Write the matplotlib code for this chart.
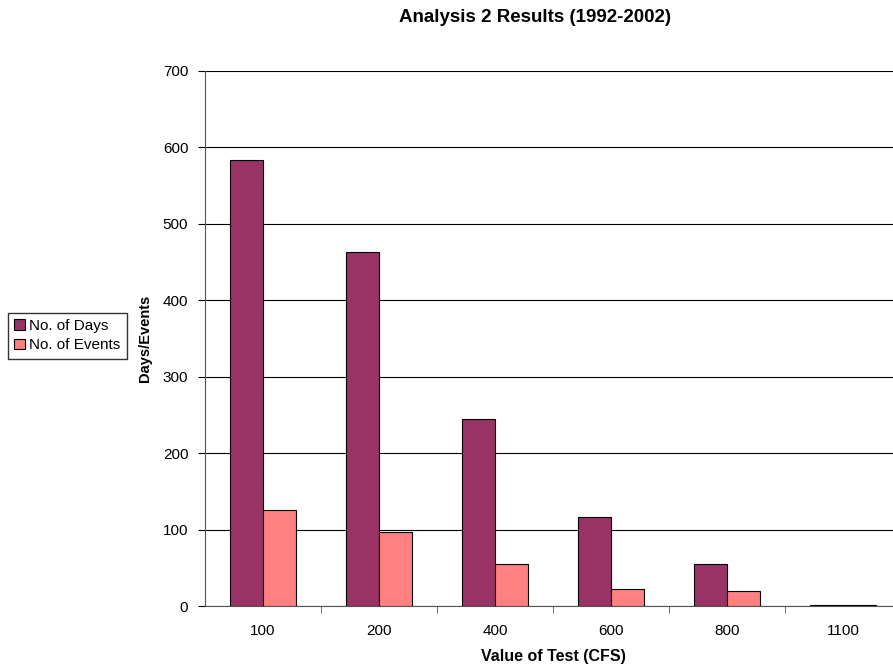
import numpy as np
import matplotlib.pyplot as plt

plt.rcParams['font.family'] = ['Liberation Sans', 'DejaVu Sans']

tests = ['100', '200', '400', '600', '800', '1100']
days = [583, 463, 245, 116, 55, 1]
events = [126, 97, 55, 22, 20, 1]

fig = plt.figure(figsize=(8.93, 6.71), dpi=100)
# plot area runs past the right edge like the original export
ax = fig.add_axes([205/893, 65/671, 696/893, 535/671])

x = np.arange(len(tests))
w = 0.284
b1 = ax.bar(x - w/2, days, w, color='#993366', edgecolor='black', linewidth=0.8,
            label='No. of Days', zorder=3)
b2 = ax.bar(x + w/2, events, w, color='#FF8080', edgecolor='black', linewidth=0.8,
            label='No. of Events', zorder=3)

ax.set_xlim(-0.5, len(tests) - 0.5)
ax.set_ylim(0, 700)
ax.set_yticks(range(0, 701, 100))
ax.yaxis.grid(True, color='black', linewidth=0.8, zorder=0)
ax.set_xticks(x)
ax.set_xticklabels(tests)
ax.set_xticks(np.arange(len(tests)) + 0.5, minor=True)
ax.tick_params(axis='x', which='major', length=0, pad=13, labelsize=11)
ax.tick_params(axis='x', which='minor', length=5, direction='out', color='#555555')
ax.tick_params(axis='y', length=5, direction='out', labelsize=11, pad=7)
for s in ['top', 'right']:
    ax.spines[s].set_visible(False)
ax.spines['left'].set_color('#555555')
ax.spines['bottom'].set_color('#555555')

ax.set_xlabel('Value of Test (CFS)', fontweight='bold', fontsize=11.5, labelpad=8)
ax.set_ylabel('Days/Events', fontweight='bold', fontsize=10.5, labelpad=8)
fig.text(535/893, 1 - 17/671, 'Analysis 2 Results (1992-2002)', ha='center', va='center',
         fontweight='bold', fontsize=13.5)

fig.legend(handles=[b1, b2], loc='upper left', bbox_to_anchor=(8/893, 1 - 313/671),
           frameon=True, fancybox=False, edgecolor='black', fontsize=11,
           handlelength=0.7, handleheight=0.7, handletextpad=0.3, borderpad=0.4,
           labelspacing=0.35, borderaxespad=0)

fig.savefig('out.png', dpi=100)
